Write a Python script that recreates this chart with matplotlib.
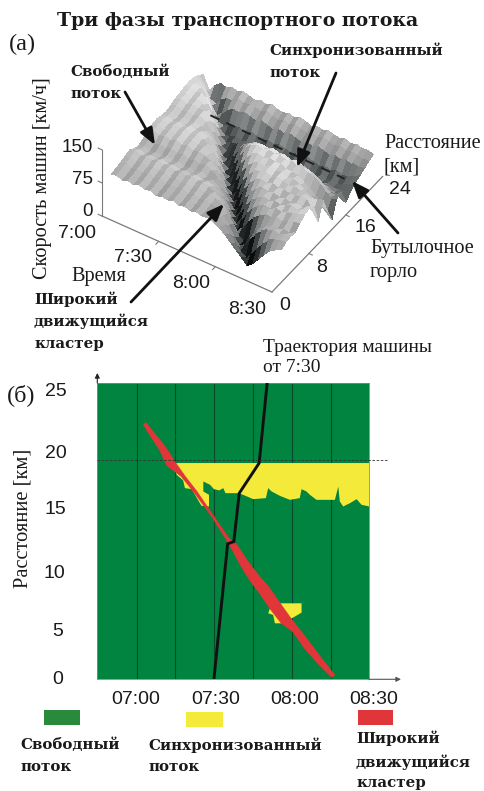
import numpy as np
import matplotlib
matplotlib.use("Agg")
import matplotlib.pyplot as plt
from matplotlib.colors import LinearSegmentedColormap, Normalize
from mpl_toolkits.mplot3d import proj3d

W, H = 485, 791
SERIF = "Liberation Serif"
BOLD = "DejaVu Serif"
SANS = "Liberation Sans"

# ---------- data: panel (a) surface, speed in km/h ----------
surf_minutes = [0,3,6,9,12,15,18,21,24,27,30,33,36,39,42,45,48,51,54,57,60,63,66,69,72,75,78,81,84,87,90]
surf_km = [2,3,4,5,6,7,8,9,10,11,12,13,14,15,16,17,18,19,20,21,22]
speed_d02 = [73,76,71,75,72,77,73,76,70,74,72,76,71,75,70,74,70,72,68,62,52,40,28,16,4,14,30,46,60,68,74]
speed_d03 = [74,77,72,76,73,78,74,77,71,75,73,77,72,76,71,75,71,73,68,58,44,28,12,6,22,40,56,68,74,78,80]
speed_d04 = [77,80,75,79,76,81,77,80,74,78,76,80,75,79,74,78,74,72,62,46,26,8,18,38,56,68,74,78,74,80,82]
speed_d05 = [80,83,78,82,79,84,80,83,77,81,79,83,78,82,77,80,76,68,56,38,14,10,26,44,58,66,72,70,76,72,80]
speed_d06 = [84,87,82,86,83,88,84,87,81,85,83,87,82,85,80,74,64,46,22,8,24,44,60,70,76,74,80,76,82,86,90]
speed_d07 = [76,79,74,78,75,80,76,79,73,77,75,79,74,76,72,62,44,20,8,26,48,64,74,80,76,84,80,86,90,94,98]
speed_d08 = [72,75,70,74,71,76,72,75,69,73,71,75,70,68,60,44,20,8,26,50,66,76,82,78,84,80,86,90,86,94,102]
speed_d09 = [78,81,76,80,77,82,78,81,75,79,77,80,74,64,46,22,8,24,48,68,80,86,82,86,80,84,80,84,80,90,96]
speed_d10 = [86,89,84,88,85,90,86,89,83,87,84,78,66,46,22,10,26,52,72,84,88,84,90,86,88,84,86,90,88,70,50]
speed_d11 = [88,91,86,90,87,92,88,91,85,86,80,66,44,20,10,28,54,74,86,90,94,88,94,90,86,90,86,84,80,84,88]
speed_d12 = [90,93,88,92,89,94,90,93,88,84,70,46,20,12,32,58,78,88,92,90,96,92,94,88,90,84,78,70,62,60,52]
speed_d13 = [86,89,84,88,85,90,86,89,84,70,46,20,14,34,60,80,92,96,92,98,94,96,90,90,86,78,70,60,50,34,22]
speed_d14 = [84,87,82,86,83,88,84,80,68,46,24,16,36,60,82,94,100,96,100,96,100,94,98,92,94,88,84,76,64,54,58]
speed_d15 = [88,91,86,90,87,92,84,70,46,24,20,36,56,72,82,88,90,88,92,88,90,84,88,84,80,76,70,60,50,50,62]
speed_d16 = [92,95,90,94,91,92,78,56,32,24,40,52,56,52,48,54,50,56,52,48,54,50,55,50,47,50,46,44,38,34,28]
speed_d17 = [94,97,92,96,90,84,60,36,26,32,34,36,34,30,36,32,38,34,30,36,32,38,34,30,36,32,36,33,34,36,42]
speed_d18 = [98,100,96,98,82,62,38,26,30,34,30,36,32,28,34,30,36,32,28,34,30,36,32,28,34,30,35,31,36,40,50]
speed_d19 = [98,98,94,80,54,34,32,40,44,46,42,48,44,40,46,42,48,44,40,46,42,48,44,40,46,42,47,43,44,48,56]
speed_d20 = [96,92,78,50,32,44,58,66,64,70,66,62,68,64,60,66,62,68,64,60,66,62,67,63,60,64,60,64,61,58,62]
speed_d21 = [90,72,46,44,60,68,68,76,72,74,74,70,76,72,68,73,69,75,71,67,72,69,74,70,68,72,67,71,68,66,67]
speed_d22 = [80,50,66,78,74,80,76,82,78,74,80,76,82,77,74,79,75,81,77,73,78,75,80,76,74,78,73,77,74,75,72]
bottleneck_minutes = [11, 82]
bottleneck_km = [19, 19]
bottleneck_speed = [42, 34]

# ---------- data: panel (b), minutes after 7:00 and km ----------
cluster_t = [3.6,7.1,11.3,14.8,18.7,23.4,30.0,35.8,38.9,42.7,46.6,51.1,55.6,60.2,65.3,71.1,76.7,
             75.4,69.4,64.9,60.4,55.9,51.4,47.5,43.6,40.4,35.9,29.4,22.4,17.2,11.7,8.8,5.0,2.6]
cluster_d = [22.35,21.36,20.2,18.95,17.7,16.34,14.16,12.27,11.69,10.39,9.22,8.06,6.61,5.16,3.71,1.97,0.37,
             0.17,1.53,2.69,4.14,4.87,6.18,7.48,8.64,9.81,11.69,14.02,16.19,17.65,18.58,19.97,21.28,22.15]
sync_t = [14.2,90,90,87,85.1,82.5,79.9,78.6,78,76.7,69.6,67,65.7,63.8,63.1,59.3,55.4,52.2,50.9,50,45.1,41.2,
          39.3,34.4,33.5,32,29.9,28.4,25.8,25.8,28,28,25.1,21.3,18.7,18,15.5]
sync_d = [18.81,18.81,15.03,15.18,15.67,15.32,15.03,15.47,16.77,15.61,15.61,16.05,16.34,16.54,15.76,15.61,15.96,
          16.34,16.63,15.76,15.67,16.05,16.19,16.19,16.63,16.43,16.54,16.92,17.21,16.34,16.05,15.03,15.09,16.54,
          16.63,17.3,17.79]
sync2_t = [54.1,63.8,63.8,60,56.5,53.5,52.8,50.9,51.6]
sync2_d = [6.61,6.61,5.8,5.3,4.87,4.87,5.6,5.74,6.18]
vehicle_t = [29.9,35.2,37.6,39.7,47.4,50.5]
vehicle_d = [0,11.78,11.98,16.19,18.81,25.8]
grid_minutes = [0,15,30,45,60,75]
bottleneck_line_km = 19.1

# ---------- text ----------
title = "Три фазы транспортного потока"
x_labels_b = ["07:00", "07:30", "08:00", "08:30"]
y_labels_b = ["25", "20", "15", "10", "5", "0"]
z_labels = ["150", "75", "0"]
t_labels = ["7:00", "7:30", "8:00", "8:30"]
d_labels = ["0", "8", "16", "24"]

GREEN, YELLOW, RED = "#00843F", "#F4EA3A", "#E0363A"

fig = plt.figure(figsize=(W/100, H/100), dpi=100, facecolor="white")

# ---------- panel (a) ----------
ax3 = fig.add_axes([0.1, 0.5, 0.6, 0.6*W/H], projection="3d")
ax3.set_proj_type("ortho")
ax3.view_init(elev=43.1, azim=-56.8)
ax3.set_box_aspect((205.6, 204.5, 91.8))
ax3.set_xlim(0, 90); ax3.set_ylim(0, 24); ax3.set_zlim(0, 150)
ax3.set_axis_off()
ax3.patch.set_alpha(0)

def px(x, y, z):
    xs, ys, _ = proj3d.proj_transform(x, y, z, ax3.get_proj())
    ax3.apply_aspect()
    return ax3.transData.transform((xs, ys))

target_o = np.array([102.0, H-216.0])
target_t = np.array([272.0, H-292.0])
for _ in range(3):
    p0, p1 = px(0, 0, 0), px(90, 0, 0)
    scale = np.hypot(*(target_t-target_o))/np.hypot(*(p1-p0))
    bb = ax3.get_position(original=False)
    side = bb.width*W*scale
    ax3.set_position([bb.x0, bb.y0, side/W, side/H])
    p0 = px(0, 0, 0)
    bb = ax3.get_position(original=False)
    shift = target_o-p0
    ax3.set_position([bb.x0+shift[0]/W, bb.y0+shift[1]/H, side/W, side/H])

T, D = np.meshgrid(surf_minutes, surf_km)
Z = np.array([speed_d02, speed_d03, speed_d04, speed_d05, speed_d06, speed_d07, speed_d08,
              speed_d09, speed_d10, speed_d11, speed_d12, speed_d13, speed_d14, speed_d15,
              speed_d16, speed_d17, speed_d18, speed_d19, speed_d20, speed_d21, speed_d22], dtype=float)
cmap = LinearSegmentedColormap.from_list(
    "g", [(0, "#0e0e0e"), (20/105, "#3c4040"), (40/105, "#707474"), (60/105, "#9a9a9a"),
          (75/105, "#b0b0b0"), (90/105, "#c8c8c8"), (1, "#e4e4e4")])
fc = cmap(Normalize(0, 105)(Z))
# fine streaks come from the point-to-point roughness of the surface along time
rough = np.zeros_like(Z)
rough[:, 1:-1] = Z[:, 1:-1] - 0.5*(Z[:, :-2] + Z[:, 2:])
fc[..., :3] = np.clip(fc[..., :3] + np.clip(0.008*rough, -0.05, 0.05)[..., None], 0, 1)
ax3.computed_zorder = False
ax3.plot_surface(T, D, Z, facecolors=fc, rstride=1, cstride=1, linewidth=0, antialiased=False, shade=False, zorder=1)
ax3.plot(bottleneck_minutes, bottleneck_km, bottleneck_speed, color="#222222", lw=1.4, ls=(0, (5, 4)), zorder=5)
AX = "#7a7a7a"
ax3.plot([0, 0], [0, 0], [0, 150], color=AX, lw=.8, zorder=3)
ax3.plot([0, 90], [0, 0], [0, 0], color=AX, lw=.9, zorder=3)
ax3.plot([90, 90], [0, 24], [0, 0], color=AX, lw=.9, zorder=3)
for v in (0, 75, 150):
    ax3.plot([0, -2], [0, 0], [v, v], color=AX, lw=.8, zorder=3)
for v in (30, 60):
    ax3.plot([v, v], [0, -.6], [0, 0], color=AX, lw=.8, zorder=3)
for v in (8, 16):
    ax3.plot([90, 91.8], [v, v], [0, 0], color=AX, lw=.8, zorder=3)

# ---------- panel (b) ----------
L, R, T_, B = 97.3, 369.3, 382.7, 679.3
axb = fig.add_axes([L/W, 1-B/H, (R-L)/W, (B-T_)/H], zorder=2)
axb.set_xlim(-15.2, 90); axb.set_ylim(0, 25.8)
axb.set_facecolor(GREEN)
for s in axb.spines.values():
    s.set_color("#5f9f7f"); s.set_linewidth(.6)
axb.spines["bottom"].set_color("#8a8a8a"); axb.spines["left"].set_color("#8a8a8a")
axb.set_xticks([]); axb.set_yticks([])
for g in grid_minutes:
    axb.axvline(g, color="#0a4a2a", lw=.8, zorder=1)
axb.fill(sync_t, sync_d, color=YELLOW, lw=0, zorder=2)
axb.fill(sync2_t, sync2_d, color=YELLOW, lw=0, zorder=2)
axb.fill(cluster_t, cluster_d, color=RED, lw=.3, zorder=3)
axb.plot(vehicle_t, vehicle_d, color="#111111", lw=2.1, solid_joinstyle="miter", zorder=4)
axb.plot([-15.2, 97], [bottleneck_line_km]*2, color="#333333", lw=.6, ls=(0, (3, 2)), clip_on=False, zorder=4)

# ---------- overlay in pixel coordinates ----------
ov = fig.add_axes([0, 0, 1, 1], zorder=5)
ov.set_xlim(0, W); ov.set_ylim(H, 0); ov.axis("off"); ov.patch.set_alpha(0)

def t(x, y, s, size=14.6, fam=SERIF, w="normal", ha="left", va="center", **k):
    ov.text(x, y, s, fontsize=size, family=fam, weight=w, ha=ha, va=va, color="#1a1a1a", **k)

def b(x, y, s):
    t(x, y, s, 10.8, fam=BOLD, w="bold")

def arrow(a, c, lw=2.0, ms=14):
    ov.annotate("", xy=c, xytext=a, arrowprops=dict(arrowstyle="-|>,head_length=0.55,head_width=0.22", lw=lw, color="#111111", shrinkA=0, shrinkB=0, mutation_scale=ms*1.3))

t(237.5, 21, title, 13.6, fam=BOLD, w="bold", ha="center")
t(9, 44, "(а)", 17.5)
b(70, 72, "Свободный")
b(70, 94, "поток")
b(269, 50, "Синхронизованный")
b(269, 73, "поток")
t(384, 143, "Расстояние", 14.6)
t(384, 167, "[км]", 14.6)
t(370, 249, "Бутылочное", 14.6)
t(370, 272, "горло", 14.6)
b(34, 299, "Широкий")
b(34, 321, "движущийся")
b(34, 344, "кластер")
t(71, 277, "Время", 14.6)
t(263, 347, "Траектория машины", 14)
t(263, 367, "от 7:30", 14)
t(43, 178, "Скорость машин [км/ч]", 14.6, ha="center", rotation=90)
t(7, 395, "(б)", 17.5)
t(23, 518, "Расстояние [км]", 14.8, ha="center", rotation=90)

for (x, y), s in zip([(93, 148), (93, 180), (93, 212)], z_labels):
    t(x, y, s, 13.5, fam=SANS, ha="right")
for (x, y), s in zip([(77, 233), (133, 258), (191, 284), (247, 309)], t_labels):
    t(x, y, s, 14, fam=SANS, ha="center")
for (x, y), s in zip([(285, 306), (322, 268), (365, 228), (400, 190)], d_labels):
    t(x, y, s, 14, fam=SANS, ha="center")
for x, y, s in zip([67, 67, 66, 65, 63, 63], [392, 453, 509, 573, 632, 680], y_labels_b):
    t(x, y, s, 14, fam=SANS, ha="right")
for x, s in zip([136, 216, 295, 374], x_labels_b):
    t(x, 699, s, 14, fam=SANS, ha="center")

arrow((125, 92), (155, 145))
arrow((336, 73), (297, 167))
arrow((398, 233), (352, 181))
arrow((131, 302), (224, 204))
ov.annotate("", xy=(97.3, 373), xytext=(97.3, 383), arrowprops=dict(arrowstyle="-|>", lw=.8, color="#222222", shrinkA=0, shrinkB=0, mutation_scale=7))
ov.annotate("", xy=(401, 679.3), xytext=(369, 679.3), arrowprops=dict(arrowstyle="-|>", lw=.8, color="#555555", shrinkA=0, shrinkB=0, mutation_scale=7))

# legend
for x0, x1, y0, y1, c in zip([44, 186, 358], [80, 223, 393], [710, 712, 710], [725, 727, 725], ["#2A8A3C", YELLOW, RED]):
    ov.fill_between([x0, x1], y0, y1, color=c, lw=0)
b(20, 745, "Свободный")
b(20, 767, "поток")
b(148, 745, "Синхронизованный")
b(148, 767, "поток")
b(356, 738, "Широкий")
b(356, 762, "движущийся")
b(356, 783, "кластер")

fig.savefig("out.png", dpi=100, facecolor="white")
